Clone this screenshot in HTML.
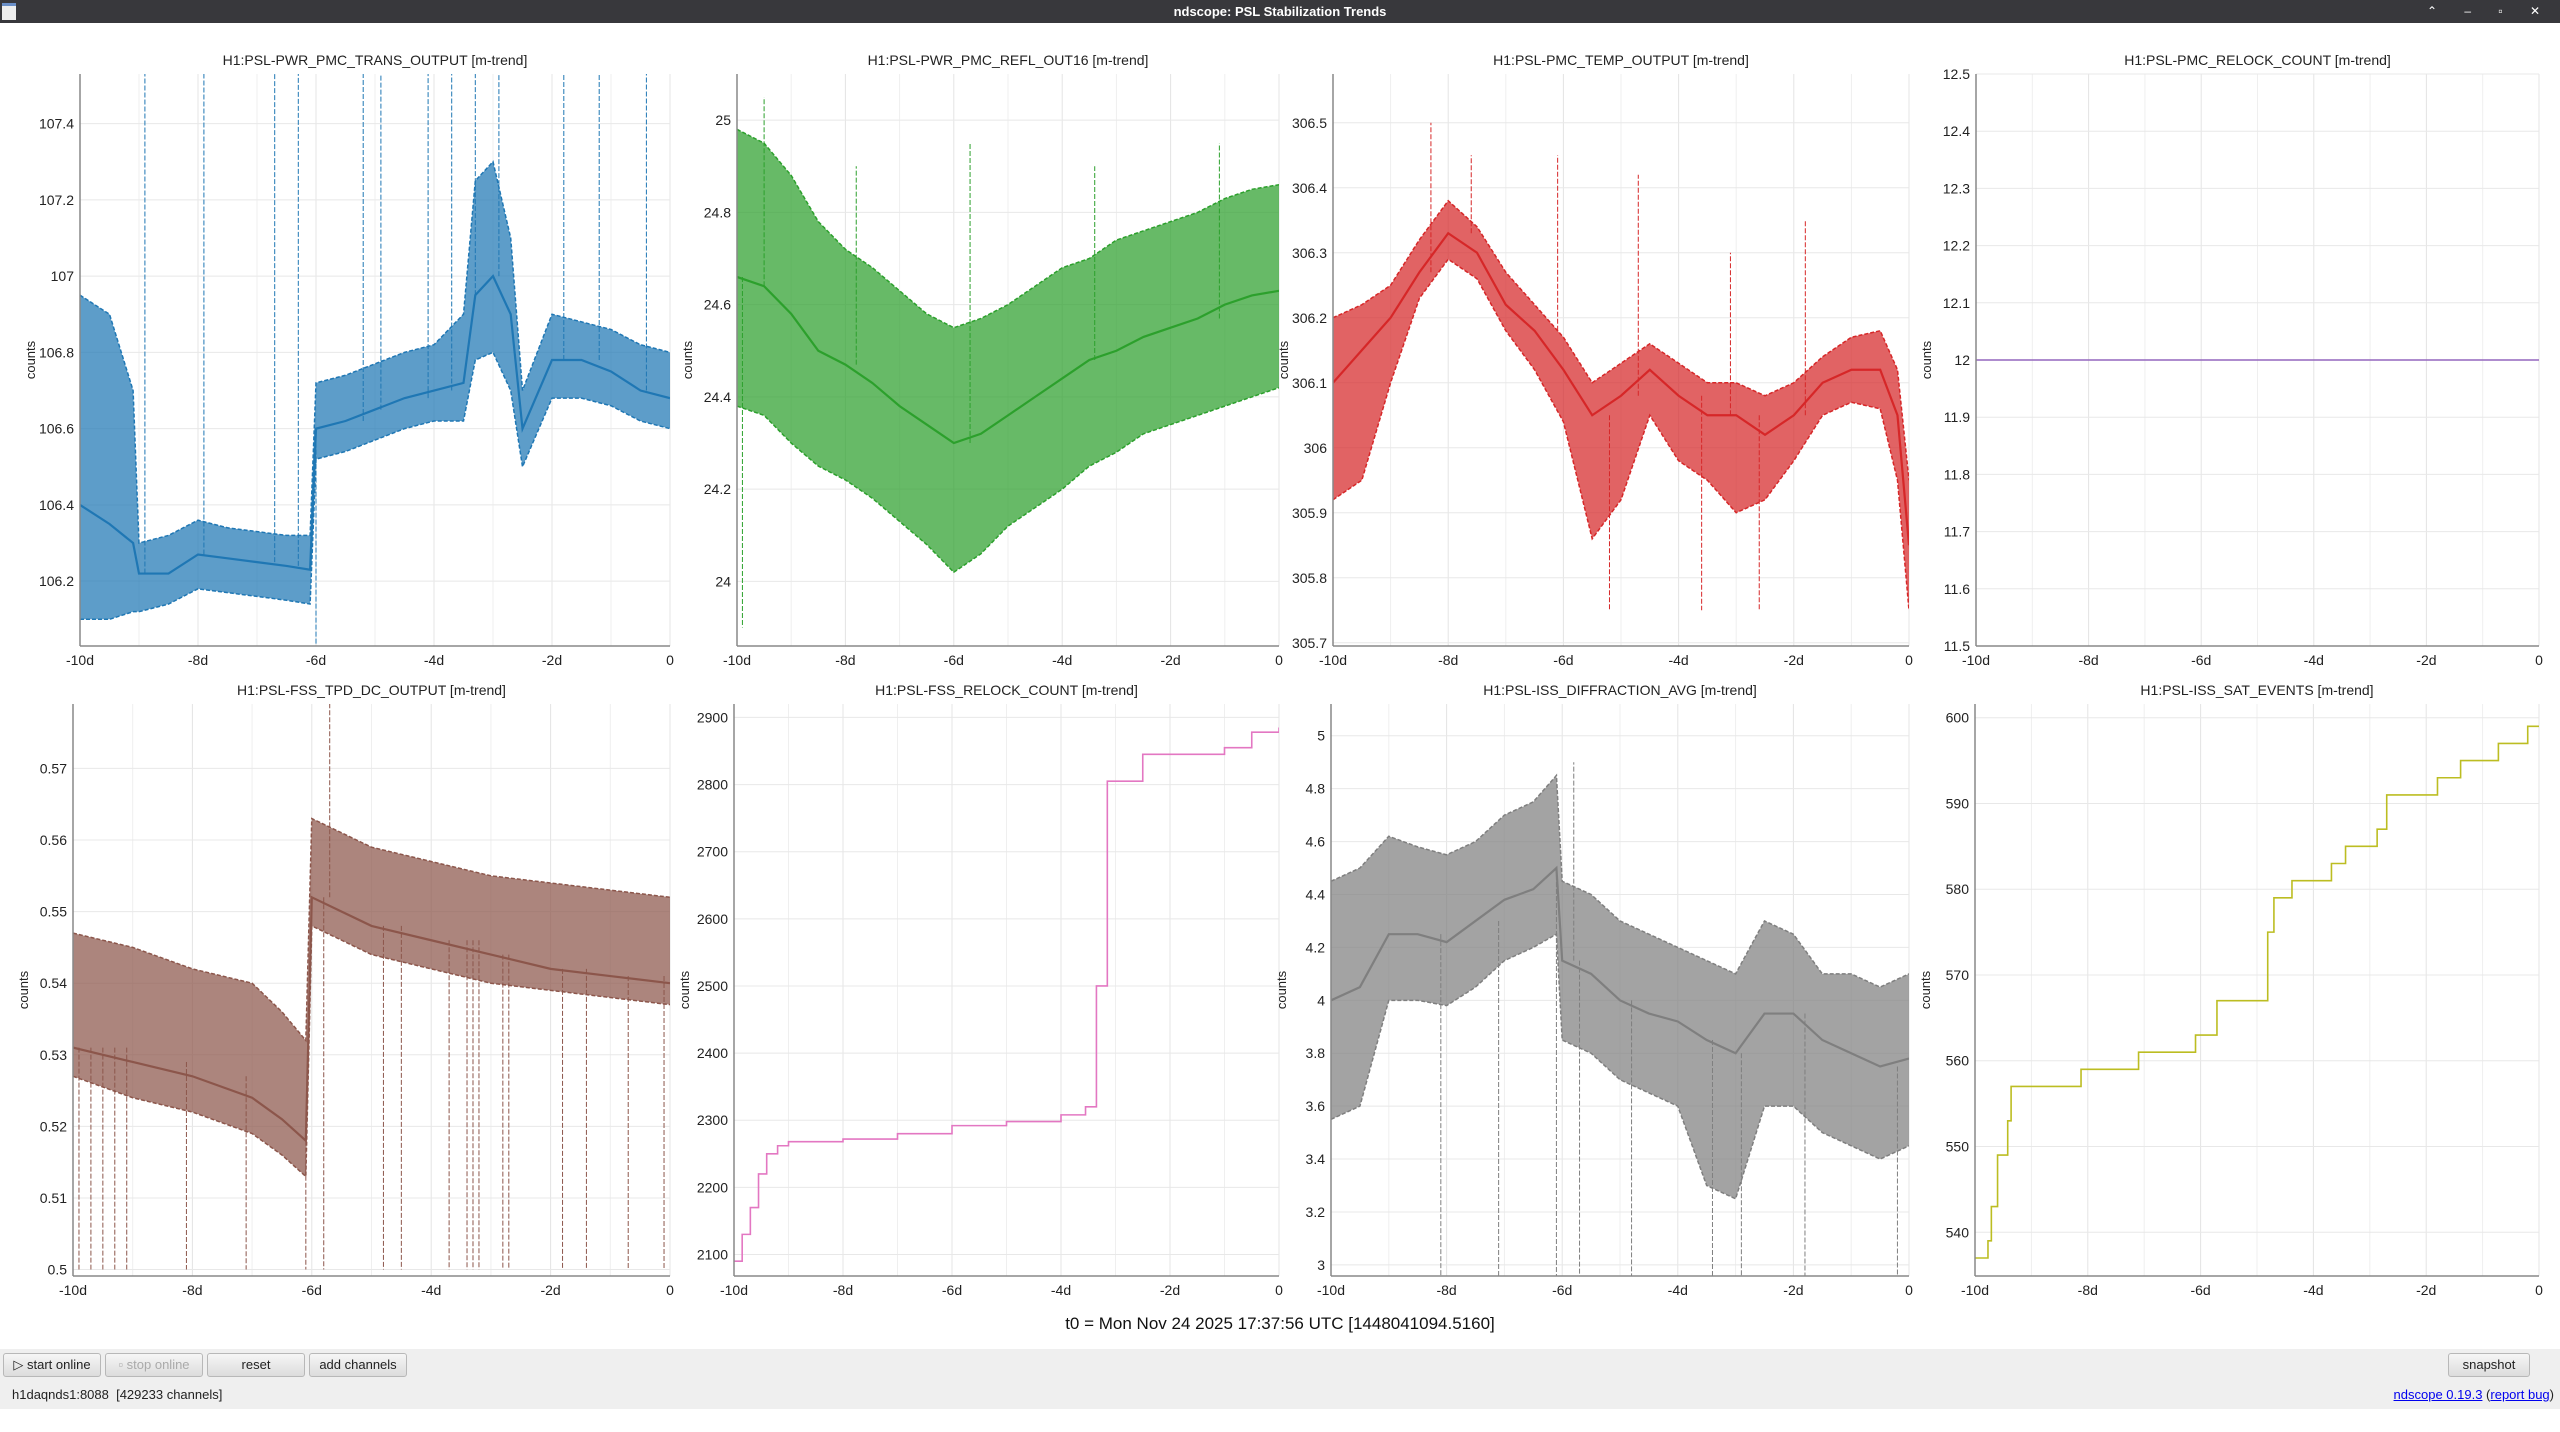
<!DOCTYPE html>
<html><head><meta charset="utf-8"><title>ndscope: PSL Stabilization Trends</title>
<style>
html,body{margin:0;padding:0;width:2560px;height:1409px;overflow:hidden;background:#fff;font-family:"Liberation Sans",sans-serif}
#titlebar{position:absolute;left:0;top:0;width:2560px;height:23px;background:#38383c;color:#fff;font-size:13px;font-weight:bold;text-align:center;line-height:23px}
#footer{position:absolute;left:0;top:1349px;width:2560px;height:60px;background:#efefef}
.btn{position:absolute;top:1353px;height:22px;border:1px solid #b8b8b8;border-radius:3px;background:linear-gradient(#f6f6f6,#dcdcdc);font-size:13px;line-height:22px;text-align:center;color:#222}
#status{position:absolute;left:12px;top:1387px;font-size:13px;color:#222}
#ver{position:absolute;right:6px;top:1387px;font-size:13px;color:#222}
#ver a{color:#00e;text-decoration:underline}
#t0{position:absolute;left:0;width:2560px;top:1314px;text-align:center;font-size:17px;color:#111}
svg text{font-family:"Liberation Sans",sans-serif}
</style></head><body>
<div id="titlebar">ndscope: PSL Stabilization Trends
<div style="position:absolute;left:2px;top:3px;width:14px;height:14px;background:#eee;border-top:3px solid #6a8fc8"></div>
<div style="position:absolute;right:8px;top:0;font-size:12px;font-weight:normal;letter-spacing:12px">⌃ ‒ ▫ ✕</div>
</div>
<svg id="chart" width="2560" height="1409" style="position:absolute;left:0;top:23px" viewBox="0 23 2560 1409"></svg>
<div id="t0">t0 = Mon Nov 24 2025 17:37:56 UTC [1448041094.5160]</div>
<div id="footer"></div>
<div class="btn" style="left:3px;width:96px">▷ start online</div>
<div class="btn" style="left:105px;width:96px;color:#aaa">▫ stop online</div>
<div class="btn" style="left:207px;width:96px">reset</div>
<div class="btn" style="left:309px;width:96px">add channels</div>
<div class="btn" style="left:2448px;width:80px">snapshot</div>
<div id="status">h1daqnds1:8088&nbsp; [429233 channels]</div>
<div id="ver"><a>ndscope 0.19.3</a> (<a>report bug</a>)</div>
<script>
// ---- data ----
const xTicks = [-10,-8,-6,-4,-2,0];
const xTickLabels = ["-10d","-8d","-6d","-4d","-2d","0"];

const p1Days = [-10,-9.5,-9.1,-9,-8.5,-8,-7.5,-7,-6.5,-6.1,-6,-5.5,-5,-4.5,-4,-3.5,-3.3,-3,-2.7,-2.5,-2,-1.5,-1,-0.5,0];
const p1Mean = [106.4,106.35,106.3,106.22,106.22,106.27,106.26,106.25,106.24,106.23,106.6,106.62,106.65,106.68,106.7,106.72,106.95,107.0,106.9,106.6,106.78,106.78,106.75,106.7,106.68];
const p1Lo = [106.1,106.1,106.12,106.12,106.14,106.18,106.17,106.16,106.15,106.14,106.52,106.54,106.57,106.6,106.62,106.62,106.78,106.8,106.7,106.5,106.68,106.68,106.66,106.62,106.6];
const p1Hi = [106.95,106.9,106.7,106.3,106.32,106.36,106.34,106.33,106.32,106.32,106.72,106.74,106.77,106.8,106.82,106.9,107.25,107.3,107.1,106.7,106.9,106.88,106.86,106.82,106.8];
const p1Spikes = [[-8.9,107.55],[-7.9,107.55],[-6.7,107.55],[-6.3,107.55],[-5.2,107.55],[-4.9,107.55],[-4.1,107.55],[-3.7,107.55],[-3.3,107.55],[-2.9,107.55],[-1.8,107.55],[-1.2,107.55],[-0.4,107.55],[-6.0,106.03]];

const p2Days = [-10,-9.5,-9,-8.5,-8,-7.5,-7,-6.5,-6,-5.5,-5,-4.5,-4,-3.5,-3,-2.5,-2,-1.5,-1,-0.5,0];
const p2Mean = [24.66,24.64,24.58,24.5,24.47,24.43,24.38,24.34,24.3,24.32,24.36,24.4,24.44,24.48,24.5,24.53,24.55,24.57,24.6,24.62,24.63];
const p2Lo = [24.38,24.36,24.3,24.25,24.22,24.18,24.13,24.08,24.02,24.06,24.12,24.16,24.2,24.25,24.28,24.32,24.34,24.36,24.38,24.4,24.42];
const p2Hi = [24.98,24.95,24.88,24.78,24.72,24.68,24.63,24.58,24.55,24.57,24.6,24.64,24.68,24.7,24.74,24.76,24.78,24.8,24.83,24.85,24.86];
const p2Spikes = [[-9.9,23.9],[-9.5,25.05],[-7.8,24.9],[-5.7,24.95],[-3.4,24.9],[-1.1,24.95]];

const p3Days = [-10,-9.5,-9,-8.5,-8,-7.5,-7,-6.5,-6,-5.5,-5,-4.5,-4,-3.5,-3,-2.5,-2,-1.5,-1,-0.5,-0.2,0];
const p3Mean = [306.1,306.15,306.2,306.27,306.33,306.3,306.22,306.18,306.12,306.05,306.08,306.12,306.08,306.05,306.05,306.02,306.05,306.1,306.12,306.12,306.05,305.85];
const p3Lo = [305.92,305.95,306.1,306.23,306.29,306.26,306.18,306.12,306.04,305.86,305.92,306.05,305.98,305.95,305.9,305.92,305.98,306.05,306.07,306.06,305.95,305.75];
const p3Hi = [306.2,306.22,306.25,306.32,306.38,306.34,306.27,306.22,306.17,306.1,306.13,306.16,306.13,306.1,306.1,306.08,306.1,306.14,306.17,306.18,306.12,305.95];
const p3Spikes = [[-8.3,306.5],[-7.6,306.45],[-6.1,306.45],[-4.7,306.42],[-3.1,306.3],[-1.8,306.35],[-5.2,305.75],[-3.6,305.75],[-2.6,305.75]];

const p4Days = [-10,0];
const p4Value = [12,12];

const p5Days = [-10,-9,-8,-7,-6.5,-6.1,-6,-5.5,-5,-4,-3,-2,-1,0];
const p5Hi = [0.547,0.545,0.542,0.54,0.536,0.532,0.563,0.561,0.559,0.557,0.555,0.554,0.553,0.552];
const p5Mean = [0.531,0.529,0.527,0.524,0.521,0.518,0.552,0.55,0.548,0.546,0.544,0.542,0.541,0.54];
const p5Lo = [0.527,0.524,0.522,0.519,0.516,0.513,0.548,0.546,0.544,0.542,0.54,0.539,0.538,0.537];
const p5Spikes = [[-9.9,0.5],[-9.7,0.5],[-9.5,0.5],[-9.3,0.5],[-9.1,0.5],[-8.1,0.5],[-7.1,0.5],[-6.1,0.5],[-5.8,0.5],[-4.8,0.5],[-4.5,0.5],[-3.7,0.5],[-3.4,0.5],[-3.3,0.5],[-3.2,0.5],[-2.8,0.5],[-2.7,0.5],[-1.8,0.5],[-1.4,0.5],[-0.7,0.5],[-0.1,0.5],[-5.7,0.579]];

const p6Days = [-10,-9.85,-9.7,-9.55,-9.4,-9.2,-9,-8,-7,-6,-5,-4,-3.55,-3.35,-3.15,-2.5,-1,-0.5,0];
const p6Value = [2090,2130,2170,2220,2250,2262,2268,2272,2280,2292,2298,2308,2320,2500,2805,2845,2855,2878,2885];

const p7Days = [-10,-9.5,-9,-8.5,-8,-7.5,-7,-6.5,-6.1,-6,-5.5,-5,-4.5,-4,-3.5,-3,-2.5,-2,-1.5,-1,-0.5,0];
const p7Mean = [4.0,4.05,4.25,4.25,4.22,4.3,4.38,4.42,4.5,4.15,4.1,4.0,3.95,3.92,3.85,3.8,3.95,3.95,3.85,3.8,3.75,3.78];
const p7Lo = [3.55,3.6,4.0,4.0,3.98,4.05,4.15,4.2,4.25,3.85,3.8,3.7,3.65,3.6,3.3,3.25,3.6,3.6,3.5,3.45,3.4,3.45];
const p7Hi = [4.45,4.5,4.62,4.58,4.55,4.6,4.7,4.75,4.85,4.45,4.4,4.3,4.25,4.2,4.15,4.1,4.3,4.25,4.1,4.1,4.05,4.1];
const p7Spikes = [[-8.1,2.96],[-7.1,2.96],[-6.1,2.96],[-5.7,2.96],[-4.8,2.96],[-3.4,2.96],[-2.9,2.96],[-1.8,2.96],[-0.2,2.96],[-5.8,4.9]];

const p8Days = [-10,-9.77,-9.71,-9.6,-9.42,-9.36,-8.12,-7.1,-6.09,-5.71,-4.81,-4.7,-4.38,-3.68,-3.43,-2.87,-2.7,-1.8,-1.39,-0.72,-0.2];
const p8Value = [537,539,543,549,553,557,559,561,563,567,575,579,581,583,585,587,591,593,595,597,599];

// ---- drawing ----
const NS = "http://www.w3.org/2000/svg";
const svg = document.getElementById('chart');
function mk(tag, attrs, parent){const e=document.createElementNS(NS,tag);for(const k in attrs)e.setAttribute(k,attrs[k]);(parent||svg).appendChild(e);return e;}

function panel(cfg){
  const {l,r,t,b,ymin,ymax,yticks,title,id} = cfg;
  const g = mk('g',{});
  
  
  const X = d => l + (d+10)/10*(r-l);
  const Y = v => b - (v-ymin)/(ymax-ymin)*(b-t);
  for(let d=-10; d<=0; d++){
    const gl = mk('line',{x1:X(d),x2:X(d),y1:t,y2:b,stroke:d%2===0?'#e4e4e4':'#efefef','stroke-width':1},g);
    
    
  }
  yticks.forEach(v=>{
    const gl = mk('line',{x1:l,x2:r,y1:Y(v),y2:Y(v),stroke:'#e8e8e8','stroke-width':1},g);
    
    
    const tx = mk('text',{x:l-6,y:Y(v)+5,'text-anchor':'end','font-size':14,fill:'#222'},g);
    tx.textContent = String(v);
    
    
  });
  xTicks.forEach((d,i)=>{
    const tx = mk('text',{x:X(d),y:b+19,'text-anchor':'middle','font-size':14,fill:'#222'},g);
    tx.textContent = xTickLabels[i];
    
    
  });
  const tt = mk('text',{x:(l+r)/2,y:t-9,'text-anchor':'middle','font-size':14,fill:'#222'},g);
  tt.textContent = title;
  
  
  const yl = mk('text',{x:0,y:0,'text-anchor':'middle','font-size':13,fill:'#222',transform:`translate(${l-45},${(t+b)/2}) rotate(-90)`},g);
  yl.textContent = 'counts';
  
  
  const cp = mk('clipPath',{id:'clip-'+id},g);
  mk('rect',{x:l,y:t,width:r-l,height:b-t},cp);
  const dg = mk('g',{'clip-path':`url(#clip-${id})`},g);
  mk('line',{x1:l,x2:l,y1:t,y2:b,stroke:'#888','stroke-width':1.5},g);
  mk('line',{x1:l,x2:r,y1:b,y2:b,stroke:'#888','stroke-width':1.5},g);
  return {X,Y,dg};
}

function band(p, days, lo, mean, hi, spikes, color, name){
  const {X,Y,dg} = p;
  let pts = days.map((d,i)=>X(d)+','+Y(hi[i])).join(' ') + ' ' + days.map((d,i)=>X(d)+','+Y(lo[i])).reverse().join(' ');
  const poly = mk('polygon',{points:pts,fill:color,'fill-opacity':0.72},dg);
  
  
  [hi,lo].forEach(arr=>{
    const pl = mk('polyline',{points:days.map((d,i)=>X(d)+','+Y(arr[i])).join(' '),fill:'none',stroke:color,'stroke-width':1.5,'stroke-dasharray':'4,2'},dg);
    
    
  });
  const ml = mk('polyline',{points:days.map((d,i)=>X(d)+','+Y(mean[i])).join(' '),fill:'none',stroke:color,'stroke-width':2.2},dg);
  
  
  spikes.forEach(s=>{
    let i=0; while(i<days.length-1 && days[i+1]<=s[0]) i++;
    const sl = mk('line',{x1:X(s[0]),x2:X(s[0]),y1:Y(mean[i]),y2:Y(s[1]),stroke:color,'stroke-width':1,'stroke-dasharray':'5,2'},dg);
    
    
  });
}

function steps(p, days, vals, color, name){
  const {X,Y,dg} = p;
  let pts = [];
  days.forEach((d,i)=>{
    if(i>0) pts.push(X(d)+','+Y(vals[i-1]));
    pts.push(X(d)+','+Y(vals[i]));
  });
  pts.push(X(0)+','+Y(vals[vals.length-1]));
  const pl = mk('polyline',{points:pts.join(' '),fill:'none',stroke:color,'stroke-width':1.6},dg);
  
  
}

const P1 = panel({id:'pmc-trans',l:80,r:670,t:74,b:646,ymin:106.03,ymax:107.53,yticks:[106.2,106.4,106.6,106.8,107,107.2,107.4],title:'H1:PSL-PWR_PMC_TRANS_OUTPUT [m-trend]'});
band(P1,p1Days,p1Lo,p1Mean,p1Hi,p1Spikes,'#1f77b4','pmc-trans');
const P2 = panel({id:'pmc-refl',l:737,r:1279,t:74,b:646,ymin:23.86,ymax:25.1,yticks:[24,24.2,24.4,24.6,24.8,25],title:'H1:PSL-PWR_PMC_REFL_OUT16 [m-trend]'});
band(P2,p2Days,p2Lo,p2Mean,p2Hi,p2Spikes,'#2ca02c','pmc-refl');
const P3 = panel({id:'pmc-temp',l:1333,r:1909,t:74,b:646,ymin:305.695,ymax:306.575,yticks:[305.7,305.8,305.9,306,306.1,306.2,306.3,306.4,306.5],title:'H1:PSL-PMC_TEMP_OUTPUT [m-trend]'});
band(P3,p3Days,p3Lo,p3Mean,p3Hi,p3Spikes,'#d62728','pmc-temp');
const P4 = panel({id:'pmc-relock',l:1976,r:2539,t:74,b:646,ymin:11.5,ymax:12.5,yticks:[11.5,11.6,11.7,11.8,11.9,12,12.1,12.2,12.3,12.4,12.5],title:'H1:PSL-PMC_RELOCK_COUNT [m-trend]'});
steps(P4,p4Days,p4Value,'#9467bd','pmc-relock');
const P5 = panel({id:'fss-tpd',l:73,r:670,t:704,b:1276,ymin:0.4991,ymax:0.579,yticks:[0.5,0.51,0.52,0.53,0.54,0.55,0.56,0.57],title:'H1:PSL-FSS_TPD_DC_OUTPUT [m-trend]'});
band(P5,p5Days,p5Lo,p5Mean,p5Hi,p5Spikes,'#8c564b','fss-tpd');
const P6 = panel({id:'fss-relock',l:734,r:1279,t:704,b:1276,ymin:2068,ymax:2920,yticks:[2100,2200,2300,2400,2500,2600,2700,2800,2900],title:'H1:PSL-FSS_RELOCK_COUNT [m-trend]'});
steps(P6,p6Days,p6Value,'#e377c2','fss-relock');
const P7 = panel({id:'iss-diff',l:1331,r:1909,t:704,b:1276,ymin:2.958,ymax:5.12,yticks:[3,3.2,3.4,3.6,3.8,4,4.2,4.4,4.6,4.8,5],title:'H1:PSL-ISS_DIFFRACTION_AVG [m-trend]'});
band(P7,p7Days,p7Lo,p7Mean,p7Hi,p7Spikes,'#7f7f7f','iss-diff');
const P8 = panel({id:'iss-sat',l:1975,r:2539,t:704,b:1276,ymin:534.9,ymax:601.6,yticks:[540,550,560,570,580,590,600],title:'H1:PSL-ISS_SAT_EVENTS [m-trend]'});
steps(P8,p8Days,p8Value,'#bcbd22','iss-sat');
</script>
</body></html>
